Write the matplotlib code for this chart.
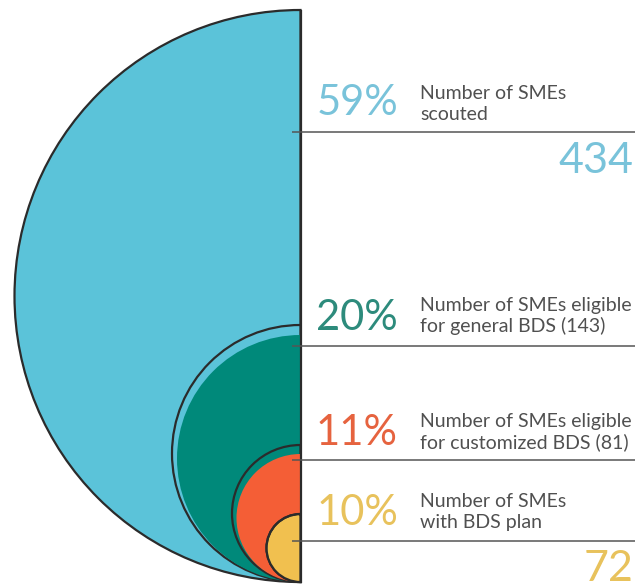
import matplotlib
matplotlib.use("Agg")
import matplotlib.pyplot as plt
from matplotlib.patches import Wedge

# Funnel stages: share of total and absolute SME counts
stages = ["scouted", "general BDS", "customized BDS", "BDS plan"]
percents = [59, 20, 11, 10]
counts = [434, 143, 81, 72]
descriptions = [
    ["Number of SMEs", "scouted"],
    ["Number of SMEs eligible", "for general BDS (143)"],
    ["Number of SMEs eligible", "for customized BDS (81)"],
    ["Number of SMEs", "with BDS plan"],
]

fill_colors = ["#5bc3d9", "#00897a", "#f45e36", "#f1c04f"]
text_colors = ["#79c3da", "#2d8b7c", "#e6633f", "#e8c25c"]
edge = "#2b2b2b"
rule = "#555555"

# Layout (pixel space, y grows downward)
W, H = 635, 585
cx, base = 300.5, 582
outline_r = [286, 128.5, 68.5, 34]
fill_r = [286, 123.5, 64, 33]
rule_y = [132, 346, 460, 541]
pct_base = [115, 330, 445, 525]
desc_base = [(99, 120), (311, 332), (427, 448), (507, 528)]

fig = plt.figure(figsize=(W / 100, H / 100), dpi=100)
ax = fig.add_axes([0, 0, 1, 1])
ax.set_xlim(0, W)
ax.set_ylim(H, 0)
ax.set_aspect("auto")
ax.axis("off")

lw = 1.6
z = 1
for i in range(len(stages)):
    # outer outline; ring gap keeps the previous stage's colour
    prev = fill_colors[i - 1] if i > 0 else fill_colors[0]
    ax.add_patch(Wedge((cx, base - outline_r[i]), outline_r[i], 90, 270,
                       facecolor=prev if i < 3 else fill_colors[i],
                       edgecolor=edge, lw=lw, zorder=z))
    z += 1
    if i > 0:
        ax.add_patch(Wedge((cx, base - fill_r[i]), fill_r[i], 90, 270,
                           facecolor=fill_colors[i], edgecolor="none",
                           lw=0, zorder=z))
        z += 1
    if i == 3:
        ax.add_patch(Wedge((cx, base - outline_r[i]), outline_r[i], 90, 270,
                           facecolor="none", edgecolor=edge, lw=lw, zorder=z))
        z += 1

# vertical spine of the half circles
ax.plot([cx, cx], [10, base + 1], color=edge, lw=lw, zorder=z + 1,
        solid_capstyle="butt")

for i in range(len(stages)):
    ax.plot([292, W], [rule_y[i], rule_y[i]], color=rule, lw=1.1,
            zorder=z + 2, solid_capstyle="butt")
    ax.text(398, pct_base[i], f"{percents[i]}%", ha="right", va="baseline",
            fontsize=30, color=text_colors[i], family="Lato", zorder=z + 3)
    for line, yb in zip(descriptions[i], desc_base[i]):
        ax.text(420, yb, line, ha="left", va="baseline", fontsize=14,
                color="#505050", family="Lato", fontweight="normal",
                zorder=z + 3)

ax.text(633, 173, str(counts[0]), ha="right", va="baseline", fontsize=31,
        color=text_colors[0], family="Lato", zorder=z + 3)
ax.text(633, 581, str(counts[3]), ha="right", va="baseline", fontsize=31,
        color=text_colors[3], family="Lato", zorder=z + 3)

fig.savefig("out.png", dpi=100, facecolor="white")
